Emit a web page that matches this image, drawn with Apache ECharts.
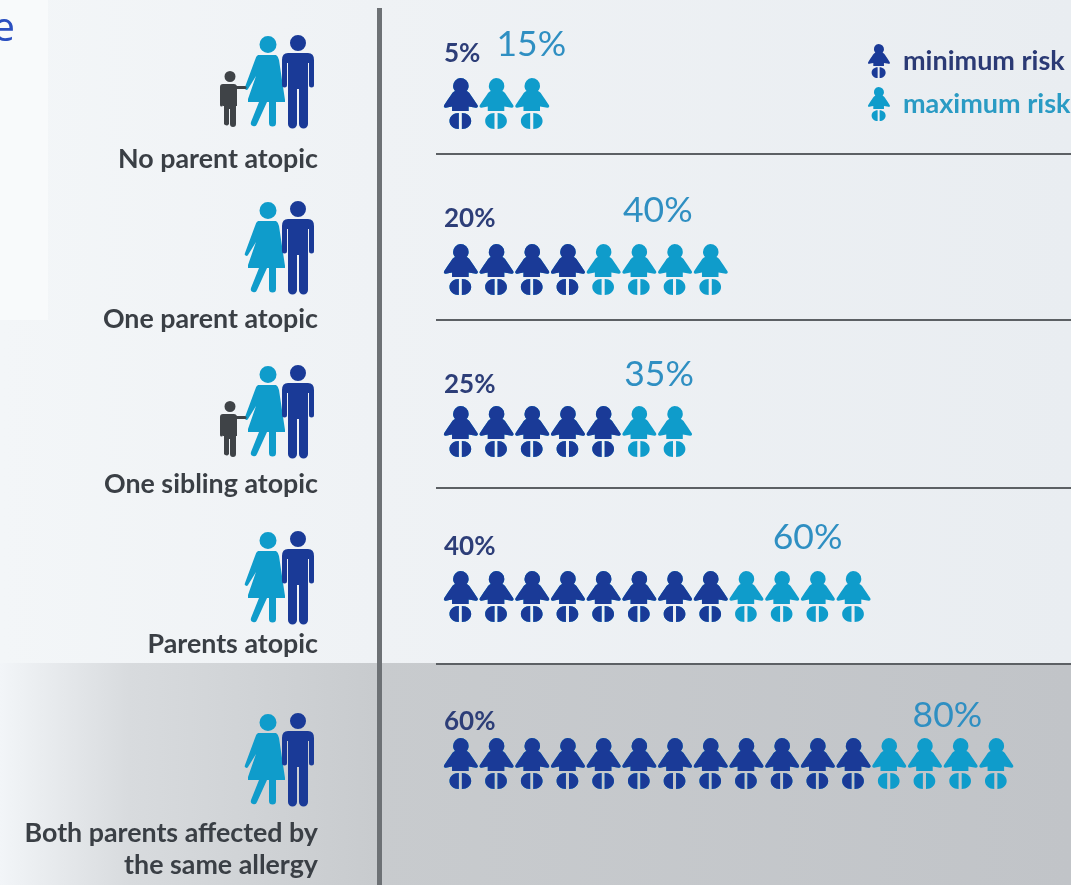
<!DOCTYPE html>
<html>
<head>
<meta charset="utf-8">
<style>html,body{margin:0;padding:0;background:#eef1f5}#chart{width:1071px;height:885px}</style>
<script src="https://cdn.jsdelivr.net/npm/echarts@6/dist/echarts.min.js"></script>
</head>
<body>
<div id="chart"></div>
<script>
// Allergy risk in children by family history of atopy.
const categories = ['No parent atopic', 'One parent atopic', 'One sibling atopic', 'Parents atopic', 'Both parents affected by\nthe same allergy'];
const minimumRisk = [5, 20, 25, 40, 60];
const maximumRisk = [15, 40, 35, 60, 80];
const sketchedWithChild = [true, false, true, false, false];

const PERCENT_PER_FIGURE = 5;
const NAVY = '#1a3a97', TEAL = '#0f9ccb', GREY = '#3f4347';
const LABEL_FONT = 'Lato';

// Row-by-row fine placement (px)
const rowNudge = [0, 1, -2, -2, 0];
const minLabelLift = [-50, -50, -49, -52, -42];
const maxLabelLift = [-59, -58, -59, -61, -48];
const maxLabelShift = [16, -36, 1, -29, -32];
const categoryLabelDrop = [56, 51, 51, 46, 86];
const iconTops = [35, 201, 365, 531, 713];
const ruleTops = [154, 320, 488, 664];

// Swaddled-baby figure: head, flared arms and short body, then two feet with a thin gap.
const BABY = 'path://M17 0a8 8 0 0 1 8 8c0 2-.8 3.600-2 5 1.500.6 2.500 1.600 3.500 3.200 2 3.300 5 7.300 7.200 11 .7 1.200-.2 2.800-1.600 2.600L25 28.500V33H9v-4.500L2.900 29.800c-1.400.2-2.300-1.400-1.600-2.600 2.200-3.700 5.200-7.700 7.200-11C9.500 14.600 10.500 13.600 12 13c-1.200-1.400-2-3-2-5a8 8 0 0 1 7-8z' +
  'M15.500 35v16C10.500 51 6.500 47.500 6.500 43S10.500 35 15.500 35z' +
  'M18.500 35c5 0 9 3.500 9 8s-4 8-9 8z';

// Family silhouettes, registered as graphic shapes in their own local coordinates.
const silhouettes = {
  manIcon: 'M16 0a8 8 0 1 1 0 16a8 8 0 1 1 0-16zM6 18H26Q32 18 32 25V50A2.500 2.500 0 0 1 27 50V28H26V89A4.500 4.500 0 0 1 17 89V54H15V89A4.500 4.500 0 0 1 6 89V28H5V50A2.500 2.500 0 0 1 0 50V25Q0 18 6 18Z',
  womanIcon: 'M23 0a8.500 8.500 0 1 1 0 17a8.500 8.500 0 1 1 0-17zM13 19H31Q33 20 34 24L40 64V66H3V63L11 40L3 53A1.700 1.700 0 0 1 0 51L10 24Q11 20 13 19ZM14 66H22L12 88A3 3 0 0 1 6 86ZM24 66H31V87A3.500 3.500 0 0 1 24 87Z',
  childIcon: 'M10 0a5.500 5.500 0 1 1 0 11a5.500 5.500 0 1 1 0-11zM3 13H14Q16 13 17 15H25A1.500 1.500 0 0 1 25 18H17V35H16V53A3 3 0 0 1 10 53V38H9V53A3 3 0 0 1 4 53V35H3V18H3V34A1.500 1.500 0 0 1 0 34V16Q0 13 3 13Z'
};
Object.keys(silhouettes).forEach(name => {
  echarts.graphic.registerShape(name, echarts.graphic.extendPath(silhouettes[name], {}));
});

function rect(x, y, width, height, fill, z) {
  return { type: 'rect', shape: { x, y, width, height }, style: { fill }, z: z === undefined ? -10 : z, silent: true };
}
function hGrad(stops) {
  return new echarts.graphic.LinearGradient(0, 0, 1, 0, stops.map(([offset, color]) => ({ offset, color })));
}
function icon(type, x, y, fill) {
  return { type, x, y, style: { fill }, z: -5, silent: true };
}

const backdrop = [
  rect(0, 0, 1071, 663, hGrad([[0, '#f3f6f8'], [0.35, '#eff2f5'], [1, '#e9edf1']])),
  rect(0, 0, 48, 320, '#f8fafb', -9),
  rect(0, 663, 1071, 222, hGrad([[0, '#f2f5f8'], [0.12, '#d8dbde'], [0.35, '#c8cbce'], [1, '#c1c4c8']]), -9),
  rect(377, 8, 5, 877, '#6d7175', -8),
  { type: 'text', x: 15, y: 50, style: { text: 'e', font: '40px "Open Sans"', fill: '#2a4fc0', textAlign: 'right', textVerticalAlign: 'bottom' }, z: -7, silent: true }
];
ruleTops.forEach(y => backdrop.push(rect(436, y - 1, 635, 2, '#5c6064', -7)));
iconTops.forEach((top, i) => {
  backdrop.push(icon('womanIcon', 245, top + 1, TEAL));
  backdrop.push(icon('manIcon', 282, top, NAVY));
  if (sketchedWithChild[i]) backdrop.push(icon('childIcon', 220, top + 36, GREY));
});

// Each figure stands for PERCENT_PER_FIGURE percent of children at risk.
function figureRow(values, labelStyleFor) {
  return values.map((value, i) => ({
    value,
    symbolRepeat: value / PERCENT_PER_FIGURE,
    symbolBoundingData: value,
    symbolOffset: [0, rowNudge[i]],
    label: labelStyleFor(i)
  }));
}

const rich = {};
categoryLabelDrop.forEach((drop, i) => { rich['r' + i] = { padding: [drop * 2, 0, 0, 0], lineHeight: 32 }; });

const chart = echarts.init(document.getElementById('chart'));
chart.setOption({
  animation: false,
  backgroundColor: 'transparent',
  graphic: { elements: backdrop },
  grid: { left: 443, top: 21, width: 606.9, height: 825 },
  legend: {
    left: 868, top: 44, padding: 0, orient: 'vertical', align: 'left',
    itemWidth: 24, itemHeight: 34, itemGap: 9,
    textStyle: { fontFamily: LABEL_FONT, fontWeight: 'bold', fontSize: 27, padding: [0, 0, 2, 7] },
    data: [
      { name: 'minimum risk', icon: BABY, itemStyle: { color: NAVY }, textStyle: { color: '#2b3a75' } },
      { name: 'maximum risk', icon: BABY, itemStyle: { color: TEAL }, textStyle: { color: '#2a9bc4' } }
    ]
  },
  xAxis: { type: 'value', min: 0, max: 85, show: false },
  yAxis: {
    type: 'category', inverse: true, data: categories,
    axisLine: { show: false }, axisTick: { show: false },
    axisLabel: {
      interval: 0, margin: 125, align: 'right',
      fontFamily: LABEL_FONT, fontSize: 26.8, fontWeight: 'bold', color: '#3a3f45',
      formatter: (value, i) => value.split('\n').map(line => `{r${i}|${line}}`).join('\n'),
      rich
    }
  },
  series: [
    {
      name: 'maximum risk', type: 'pictorialBar', symbol: BABY, symbolSize: [34, 51],
      symbolMargin: '0!', symbolPosition: 'start', barGap: '-100%', barWidth: 60, z: 2,
      itemStyle: { color: TEAL },
      label: { show: true, formatter: '{c}%', fontFamily: LABEL_FONT, fontSize: 35.5, color: '#2f8fc2' },
      data: figureRow(maximumRisk, i => ({ position: 'insideRight', distance: 0, offset: [maxLabelShift[i], maxLabelLift[i]] }))
    },
    {
      name: 'minimum risk', type: 'pictorialBar', symbol: BABY, symbolSize: [34, 51],
      symbolMargin: '0!', symbolPosition: 'start', barGap: '-100%', barWidth: 60, z: 3,
      itemStyle: { color: NAVY },
      label: { show: true, formatter: '{c}%', fontFamily: LABEL_FONT, fontWeight: 'bold', fontSize: 26, color: '#2d3e78' },
      data: figureRow(minimumRisk, i => ({ position: 'insideLeft', distance: 0, offset: [1, minLabelLift[i]] }))
    }
  ]
});
</script>
</body>
</html>
